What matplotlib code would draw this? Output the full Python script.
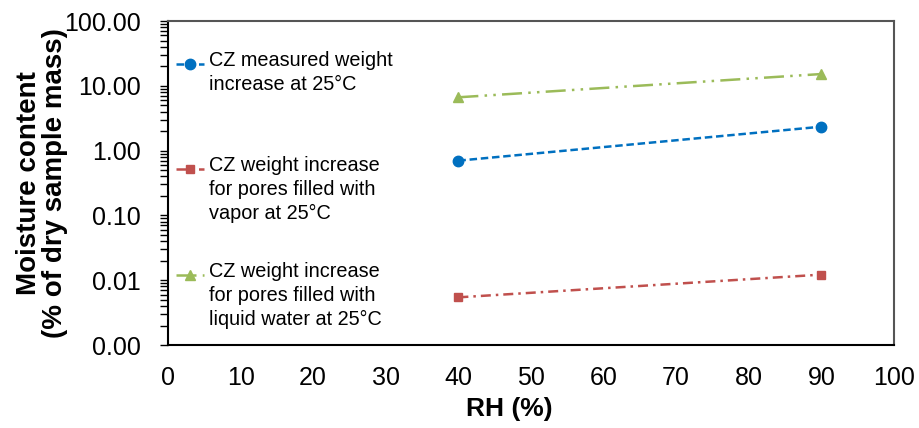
import numpy as np
import matplotlib
matplotlib.use("Agg")
import matplotlib.pyplot as plt
from matplotlib.ticker import FormatStrFormatter, LogLocator, NullFormatter
from matplotlib.legend_handler import HandlerLine2D

plt.rcParams['font.family'] = ['Liberation Sans', 'DejaVu Sans']

rh = [40, 90]
measured = [0.70, 2.34]
vapor = [0.00544, 0.0122]
liquid = [6.65, 15.2]

# trailing newline keeps all three legend entries the same height
labels = [
    "CZ measured weight\nincrease at 25°C\n",
    "CZ weight increase\nfor pores filled with\nvapor at 25°C",
    "CZ weight increase\nfor pores filled with\nliquid water at 25°C",
]
x_ticks = list(range(0, 101, 10))
y_ticks = [0.001, 0.01, 0.1, 1, 10, 100]


class FirstLineHandler(HandlerLine2D):
    # keep the legend marker level with the first line of a multi-line label
    def __init__(self, shift, **kw):
        super().__init__(**kw)
        self.shift = shift

    def create_artists(self, legend, orig_handle, xdescent, ydescent,
                       width, height, fontsize, trans):
        artists = super().create_artists(legend, orig_handle, xdescent, ydescent,
                                         width, height, fontsize, trans)
        for a in artists:
            a.set_ydata(np.asarray(a.get_ydata()) + self.shift)
        return artists


fig = plt.figure(figsize=(9.2, 4.28), dpi=100)
ax = fig.add_axes([0.1826, 0.1939, 0.7891, 0.7570])

l1, = ax.plot(rh, measured, color='#0070C0', lw=1.8, dashes=(3, 1.5),
              marker='o', ms=7.5, label=labels[0])
l2, = ax.plot(rh, vapor, color='#C0504D', lw=1.8, dashes=(4, 2, 1, 2),
              marker='s', ms=5.5, label=labels[1])
l3, = ax.plot(rh, liquid, color='#9BBB59', lw=1.8, dashes=(8, 2.5, 1, 2.5, 1, 2.5),
              marker='^', ms=6.5, label=labels[2])

ax.set_yscale('log')
ax.set_ylim(0.001, 100)
ax.set_xlim(0, 100)
ax.set_xticks(x_ticks)
ax.set_yticks(y_ticks)
ax.yaxis.set_major_formatter(FormatStrFormatter('%.2f'))
ax.yaxis.set_minor_locator(LogLocator(base=10, subs=np.arange(2, 10)))
ax.yaxis.set_minor_formatter(NullFormatter())

ax.tick_params(axis='x', length=0, pad=15, labelsize=18)
ax.tick_params(axis='y', which='both', direction='out', length=5.5, width=1,
               pad=14, labelsize=18)

for side in ['left', 'bottom']:
    ax.spines[side].set_linewidth(1.5)
    ax.spines[side].set_color('black')
for side in ['top', 'right']:
    ax.spines[side].set_linewidth(1.5)
    ax.spines[side].set_color('#555555')

ax.set_xlabel("RH (%)", fontsize=19, fontweight='bold')
ax.xaxis.set_label_coords(0.47, -0.16)
ax.set_ylabel("Moisture content\n(% of dry sample mass)", fontsize=20,
              fontweight='bold', linespacing=1.0)
ax.yaxis.set_label_coords(-0.138, 0.5)

line_h = 15.2
leg = ax.legend(handles=[l1, l2, l3], loc='upper left',
                bbox_to_anchor=(0.0, 0.933), frameon=False, fontsize=14.3,
                handlelength=1.4, handletextpad=0.25, labelspacing=1.95,
                borderaxespad=0.0,
                handler_map={l1: FirstLineHandler(line_h),
                             l2: FirstLineHandler(line_h),
                             l3: FirstLineHandler(line_h)})
for t in leg.get_texts():
    t.set_linespacing(1.33)

fig.savefig("out.png", dpi=100)
